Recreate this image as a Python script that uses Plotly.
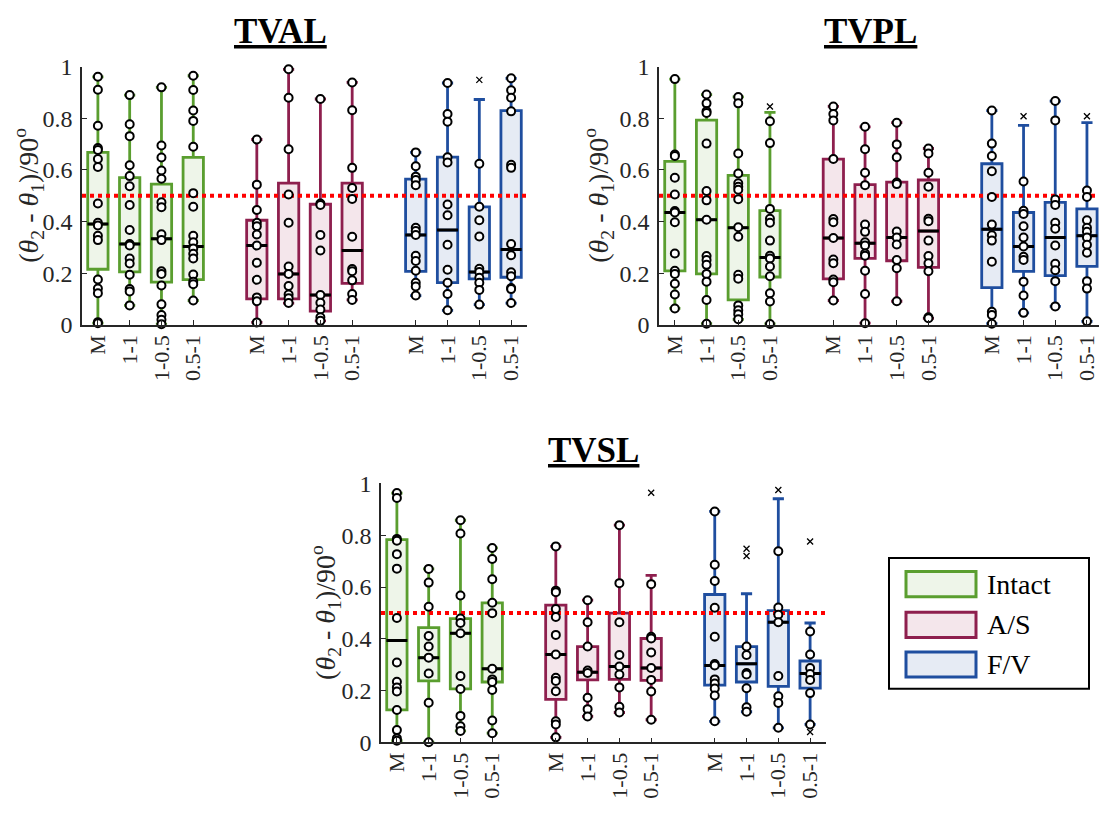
import plotly.graph_objects as go

W, H = 1099, 815
FONT = "Liberation Serif, Times New Roman, serif"
INK = "#262626"

CATEGORIES = ["M", "1-1", "1-0.5", "0.5-1"]
GROUPS = ["Intact", "A/S", "F/V"]
POSITIONS = [1, 2, 3, 4, 6, 7, 8, 9, 11, 12, 13, 14]
THRESHOLD = 0.5
Y_TICKS = [0, 0.2, 0.4, 0.6, 0.8, 1]
Y_TICK_TEXT = ["0", "0.2", "0.4", "0.6", "0.8", "1"]

LINE_COLORS = ["#5A9E2F", "#8E1F4E", "#1F4E9F"]
FILL_COLORS = ["#EEF5E9", "#F4E6EB", "#E6EBF4"]

# ---- TVAL: order Intact(M,1-1,1-0.5,0.5-1), A/S(...), F/V(...) ----
TVAL_Q1 = [0.215, 0.205, 0.165, 0.175, 0.100, 0.100, 0.053, 0.160, 0.207, 0.163, 0.178, 0.184]
TVAL_MED = [0.390, 0.313, 0.333, 0.303, 0.307, 0.197, 0.115, 0.288, 0.348, 0.367, 0.204, 0.292]
TVAL_Q3 = [0.668, 0.570, 0.545, 0.649, 0.405, 0.549, 0.467, 0.549, 0.564, 0.650, 0.457, 0.830]
TVAL_LO = [0.006, 0.075, 0.002, 0.094, 0.009, 0.084, 0.015, 0.096, 0.113, 0.056, 0.078, 0.084]
TVAL_HI = [0.961, 0.890, 0.920, 0.965, 0.718, 0.990, 0.875, 0.939, 0.668, 0.937, 0.873, 0.955]
TVAL_PTS = [
    [0.961, 0.911, 0.771, 0.685, 0.677, 0.642, 0.611, 0.470, 0.395, 0.385, 0.345, 0.328, 0.175, 0.140, 0.122, 0.010, 0.006],
    [0.890, 0.777, 0.731, 0.618, 0.576, 0.537, 0.464, 0.367, 0.313, 0.307, 0.257, 0.237, 0.194, 0.138, 0.129, 0.075],
    [0.920, 0.695, 0.648, 0.598, 0.566, 0.475, 0.455, 0.351, 0.328, 0.207, 0.197, 0.152, 0.079, 0.038, 0.019, 0.002],
    [0.965, 0.910, 0.830, 0.790, 0.690, 0.510, 0.457, 0.345, 0.320, 0.295, 0.275, 0.257, 0.195, 0.167, 0.157, 0.094],
    [0.718, 0.543, 0.445, 0.395, 0.382, 0.350, 0.307, 0.240, 0.174, 0.106, 0.091, 0.009],
    [0.990, 0.880, 0.680, 0.505, 0.395, 0.226, 0.197, 0.150, 0.117, 0.103, 0.084],
    [0.875, 0.470, 0.464, 0.348, 0.288, 0.115, 0.085, 0.059, 0.029, 0.015],
    [0.939, 0.831, 0.608, 0.530, 0.487, 0.341, 0.216, 0.207, 0.172, 0.119, 0.096],
    [0.668, 0.614, 0.574, 0.561, 0.541, 0.376, 0.363, 0.348, 0.267, 0.247, 0.209, 0.163, 0.148, 0.113],
    [0.937, 0.817, 0.787, 0.649, 0.629, 0.466, 0.424, 0.310, 0.213, 0.163, 0.119, 0.056],
    [0.624, 0.457, 0.405, 0.342, 0.217, 0.204, 0.182, 0.163, 0.135, 0.078],
    [0.955, 0.909, 0.880, 0.827, 0.620, 0.608, 0.313, 0.269, 0.203, 0.188, 0.142, 0.138, 0.084],
]
TVAL_OUT = [[], [], [], [], [], [], [], [], [], [], [0.949], []]

# ---- TVPL ----
TVPL_Q1 = [0.209, 0.197, 0.096, 0.185, 0.178, 0.257, 0.248, 0.222, 0.144, 0.207, 0.190, 0.226]
TVPL_MED = [0.435, 0.407, 0.376, 0.261, 0.336, 0.316, 0.338, 0.363, 0.370, 0.303, 0.338, 0.345]
TVPL_Q3 = [0.633, 0.793, 0.579, 0.442, 0.642, 0.543, 0.553, 0.561, 0.624, 0.435, 0.474, 0.449]
TVPL_LO = [0.063, 0.004, 0.021, 0.003, 0.094, 0.006, 0.091, 0.025, 0.004, 0.046, 0.071, 0.013]
TVPL_HI = [0.952, 0.892, 0.883, 0.823, 0.846, 0.767, 0.783, 0.683, 0.830, 0.773, 0.867, 0.783]
TVPL_PTS = [
    [0.952, 0.660, 0.654, 0.570, 0.505, 0.441, 0.435, 0.397, 0.276, 0.209, 0.197, 0.159, 0.117, 0.063],
    [0.892, 0.858, 0.827, 0.821, 0.702, 0.518, 0.482, 0.407, 0.266, 0.251, 0.232, 0.197, 0.167, 0.096, 0.004],
    [0.883, 0.858, 0.664, 0.586, 0.548, 0.535, 0.523, 0.486, 0.378, 0.341, 0.194, 0.178, 0.075, 0.056, 0.041, 0.021],
    [0.789, 0.704, 0.449, 0.411, 0.395, 0.326, 0.267, 0.257, 0.226, 0.188, 0.122, 0.090, 0.003],
    [0.846, 0.817, 0.792, 0.642, 0.410, 0.397, 0.336, 0.253, 0.238, 0.175, 0.165, 0.094],
    [0.767, 0.680, 0.589, 0.541, 0.388, 0.360, 0.320, 0.307, 0.276, 0.267, 0.209, 0.119, 0.006],
    [0.783, 0.699, 0.649, 0.551, 0.545, 0.361, 0.338, 0.311, 0.251, 0.219, 0.091],
    [0.683, 0.664, 0.589, 0.535, 0.411, 0.401, 0.326, 0.266, 0.238, 0.207, 0.029, 0.025],
    [0.830, 0.702, 0.654, 0.595, 0.495, 0.388, 0.347, 0.326, 0.244, 0.050, 0.038, 0.004],
    [0.555, 0.442, 0.429, 0.382, 0.338, 0.303, 0.263, 0.251, 0.167, 0.113, 0.046],
    [0.867, 0.792, 0.485, 0.464, 0.395, 0.372, 0.307, 0.236, 0.211, 0.169, 0.071],
    [0.520, 0.495, 0.405, 0.376, 0.360, 0.338, 0.310, 0.279, 0.169, 0.140, 0.013],
]
TVPL_OUT = [[], [], [], [0.846], [], [], [], [], [], [0.808], [], [0.808]]

# ---- TVSL ----
TVSL_Q1 = [0.125, 0.237, 0.206, 0.233, 0.166, 0.241, 0.243, 0.239, 0.221, 0.233, 0.216, 0.209]
TVSL_MED = [0.393, 0.327, 0.421, 0.284, 0.339, 0.271, 0.293, 0.287, 0.297, 0.303, 0.464, 0.266]
TVSL_Q3 = [0.783, 0.443, 0.478, 0.539, 0.530, 0.370, 0.499, 0.401, 0.571, 0.370, 0.509, 0.314]
TVSL_LO = [0.006, 0.000, 0.044, 0.035, 0.019, 0.100, 0.115, 0.087, 0.081, 0.118, 0.056, 0.069]
TVSL_HI = [0.963, 0.670, 0.858, 0.751, 0.757, 0.549, 0.839, 0.645, 0.892, 0.574, 0.941, 0.461]
TVSL_PTS = [
    [0.963, 0.944, 0.786, 0.779, 0.727, 0.671, 0.480, 0.308, 0.234, 0.212, 0.196, 0.125, 0.047, 0.015, 0.006],
    [0.670, 0.617, 0.524, 0.411, 0.370, 0.327, 0.266, 0.153, 0.000],
    [0.858, 0.807, 0.567, 0.478, 0.461, 0.421, 0.256, 0.206, 0.102, 0.062, 0.044],
    [0.751, 0.708, 0.630, 0.539, 0.499, 0.284, 0.243, 0.233, 0.202, 0.084, 0.035],
    [0.757, 0.586, 0.580, 0.515, 0.484, 0.415, 0.339, 0.249, 0.237, 0.197, 0.081, 0.069, 0.019],
    [0.549, 0.464, 0.370, 0.277, 0.268, 0.172, 0.128, 0.100],
    [0.839, 0.615, 0.464, 0.337, 0.293, 0.262, 0.212, 0.137, 0.115],
    [0.611, 0.408, 0.401, 0.347, 0.287, 0.241, 0.196, 0.087],
    [0.892, 0.686, 0.623, 0.520, 0.408, 0.302, 0.297, 0.243, 0.227, 0.208, 0.181, 0.081],
    [0.370, 0.337, 0.268, 0.262, 0.209, 0.135, 0.118],
    [0.738, 0.521, 0.493, 0.464, 0.256, 0.178, 0.152, 0.056],
    [0.428, 0.339, 0.287, 0.264, 0.241, 0.190, 0.069],
]
TVSL_OUT = [[], [], [], [], [], [], [], [0.964], [], [0.748, 0.720], [0.975], [0.776, 0.040]]

# ---- layout geometry (pixels on the 1099x815 page) ----
BOX_WIDTH = 0.64
MEDIAN_HALF = 0.33


def fx(px):
    return px / W


def fy(py):
    return 1 - py / H


PANELS = [
    dict(title="TVAL", ax="", q1=TVAL_Q1, med=TVAL_MED, q3=TVAL_Q3, lo=TVAL_LO, hi=TVAL_HI,
         pts=TVAL_PTS, out=TVAL_OUT, xpx=(82, 527), ypx=(322, 55.5), xrange=(0.5, 14.5),
         title_px=(280, 19), ylab_x=29),
    dict(title="TVPL", ax="2", q1=TVPL_Q1, med=TVPL_MED, q3=TVPL_Q3, lo=TVPL_LO, hi=TVPL_HI,
         pts=TVPL_PTS, out=TVPL_OUT, xpx=(659, 1099), ypx=(322, 55.5), xrange=(0.5, 14.38),
         title_px=(870, 19), ylab_x=599),
    dict(title="TVSL", ax="3", q1=TVSL_Q1, med=TVSL_MED, q3=TVSL_Q3, lo=TVSL_LO, hi=TVSL_HI,
         pts=TVSL_PTS, out=TVSL_OUT, xpx=(381, 826), ypx=(753.3, 486), xrange=(0.5, 14.5),
         title_px=(593, 452), ylab_x=326),
]

Y_LABEL = "(<i>θ</i><sub>2</sub> - <i>θ</i><sub>1</sub>)/90<sup>o</sup>"

fig = go.Figure()
annotations = []
shapes = []
layout_axes = {}

for p in PANELS:
    xa, ya = "x" + p["ax"], "y" + p["ax"]

    # boxes, one trace per group
    for g in range(3):
        sl = slice(4 * g, 4 * g + 4)
        fig.add_trace(go.Box(
            x=POSITIONS[sl], q1=p["q1"][sl], median=p["med"][sl], q3=p["q3"][sl],
            lowerfence=p["lo"][sl], upperfence=p["hi"][sl],
            orientation="v", width=BOX_WIDTH, whiskerwidth=0.55,
            line=dict(color=LINE_COLORS[g], width=2.8), fillcolor=FILL_COLORS[g],
            boxpoints=False, showlegend=False, hoverinfo="skip",
            xaxis=xa, yaxis=ya,
        ))

    # reference level
    fig.add_trace(go.Scatter(
        x=list(p["xrange"]), y=[THRESHOLD, THRESHOLD], mode="lines",
        line=dict(color="#FF0000", width=4, dash="dot"),
        showlegend=False, hoverinfo="skip", xaxis=xa, yaxis=ya, cliponaxis=False,
    ))

    # black median bars
    mx, my = [], []
    for pos, m in zip(POSITIONS, p["med"]):
        mx += [pos - MEDIAN_HALF, pos + MEDIAN_HALF, None]
        my += [m, m, None]
    fig.add_trace(go.Scatter(
        x=mx, y=my, mode="lines", line=dict(color="black", width=3),
        showlegend=False, hoverinfo="skip", xaxis=xa, yaxis=ya,
    ))

    # individual observations
    px_, py_ = [], []
    for pos, vals in zip(POSITIONS, p["pts"]):
        px_ += [pos] * len(vals)
        py_ += vals
    fig.add_trace(go.Scatter(
        x=px_, y=py_, mode="markers",
        marker=dict(symbol="circle", size=8, color="white", line=dict(color="black", width=2)),
        showlegend=False, hoverinfo="skip", xaxis=xa, yaxis=ya, cliponaxis=False,
    ))

    # outliers
    ox, oy = [], []
    for pos, vals in zip(POSITIONS, p["out"]):
        ox += [pos] * len(vals)
        oy += vals
    fig.add_trace(go.Scatter(
        x=ox, y=oy, mode="markers",
        marker=dict(symbol="x-thin", size=6, color="black", line=dict(color="black", width=1.3)),
        showlegend=False, hoverinfo="skip", xaxis=xa, yaxis=ya, cliponaxis=False,
    ))

    axis_common = dict(
        showline=True, linecolor=INK, linewidth=1.5, showgrid=False, zeroline=False,
        ticks="inside", ticklen=5, tickwidth=1.2, tickcolor=INK, fixedrange=True,
    )
    layout_axes["xaxis" + p["ax"]] = dict(
        axis_common, domain=[fx(p["xpx"][0]), fx(p["xpx"][1])], range=list(p["xrange"]),
        tickmode="array", tickvals=POSITIONS, ticktext=CATEGORIES * 3, tickangle=-90,
        tickfont=dict(family=FONT, size=22, color=INK),
        ticklabeloverflow="allow", anchor=ya,
    )
    layout_axes["yaxis" + p["ax"]] = dict(
        axis_common, domain=[fy(p["ypx"][0]), fy(p["ypx"][1])], range=[0, 1],
        tickmode="array", tickvals=Y_TICKS, ticktext=Y_TICK_TEXT, anchor=xa,
        tickfont=dict(family=FONT, size=24, color=INK),
        ticklabeloverflow="allow", ticklabelstandoff=3,
    )

    annotations.append(dict(
        text="<b><u>" + p["title"] + "</u></b>", xref="paper", yref="paper",
        x=fx(p["title_px"][0]), y=fy(p["title_px"][1]), xanchor="center", yanchor="middle",
        showarrow=False, font=dict(family=FONT, size=35, color="black"),
    ))
    annotations.append(dict(
        text=Y_LABEL, xref="paper", yref="paper", textangle=-90,
        x=fx(p["ylab_x"]), y=fy((p["ypx"][0] + p["ypx"][1]) / 2),
        xanchor="center", yanchor="middle", showarrow=False,
        font=dict(family=FONT, size=28, color=INK),
    ))

# legend panel
LEG_FRAME = (889, 563, 1089, 698)
LEG_ROWS_Y = [590, 632, 673]
shapes.append(dict(type="rect", xref="paper", yref="paper",
                   x0=fx(LEG_FRAME[0]), x1=fx(LEG_FRAME[2]), y0=fy(LEG_FRAME[3]), y1=fy(LEG_FRAME[1]),
                   line=dict(color="black", width=2), fillcolor="white", layer="above"))
for g, name in enumerate(GROUPS):
    cy = LEG_ROWS_Y[g]
    shapes.append(dict(type="rect", xref="paper", yref="paper",
                       x0=fx(906), x1=fx(976), y0=fy(cy + 13), y1=fy(cy - 13),
                       line=dict(color=LINE_COLORS[g], width=3), fillcolor=FILL_COLORS[g], layer="above"))
    annotations.append(dict(
        text=name, xref="paper", yref="paper", x=fx(985), y=fy(cy),
        xanchor="left", yanchor="middle", showarrow=False,
        font=dict(family=FONT, size=28, color="black"),
    ))

fig.update_layout(
    width=W, height=H, margin=dict(l=0, r=0, t=0, b=0),
    paper_bgcolor="white", plot_bgcolor="white",
    boxmode="overlay", showlegend=False,
    font=dict(family=FONT),
    annotations=annotations, shapes=shapes,
    **layout_axes,
)

fig.write_html("out.html")
